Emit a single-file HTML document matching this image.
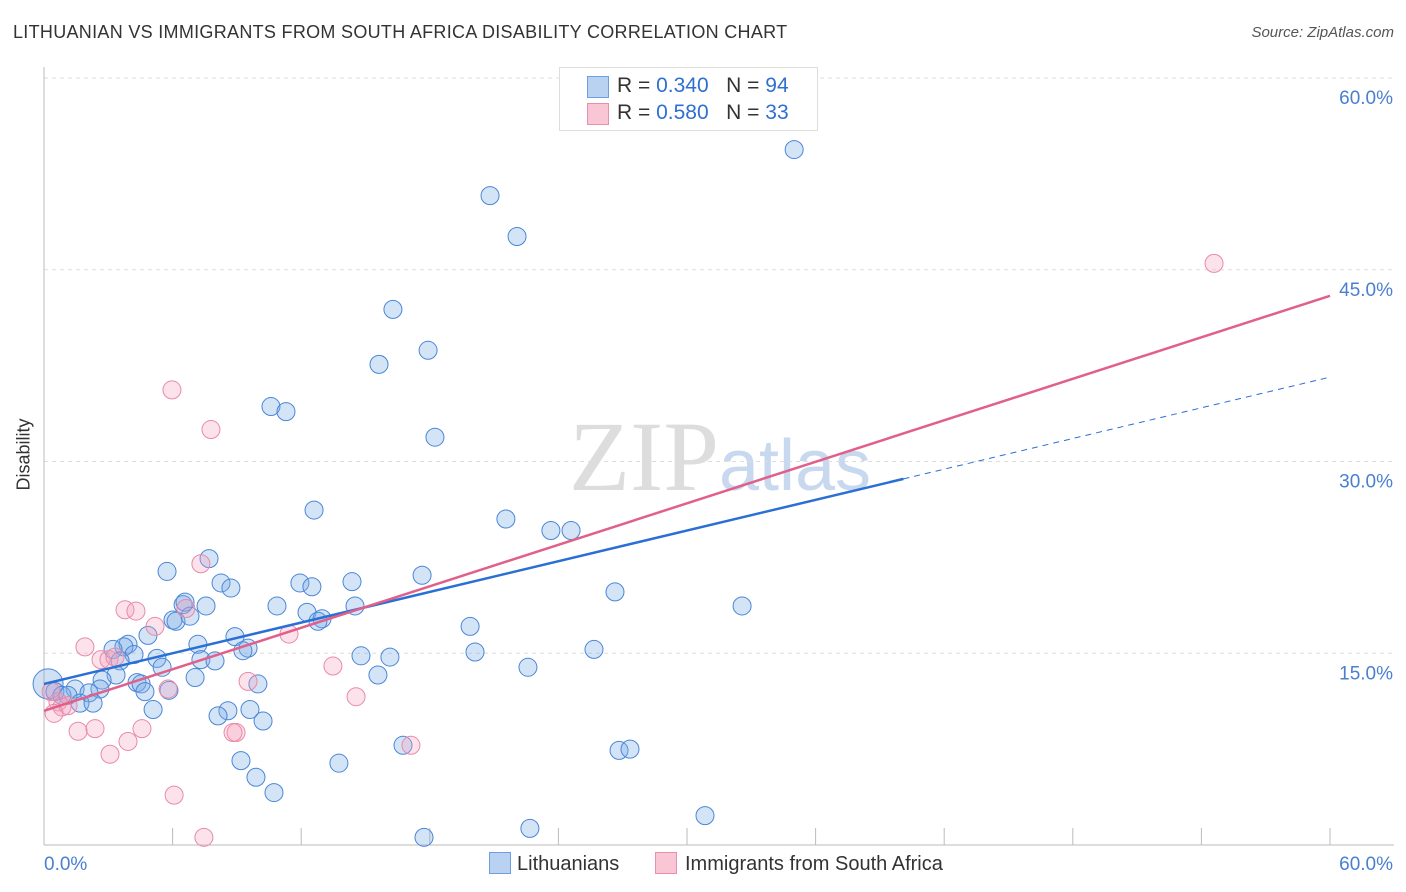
<!DOCTYPE html>
<html><head><meta charset="utf-8"><style>
body{margin:0;background:#fff;font-family:"Liberation Sans",sans-serif;}
#wrap{position:relative;width:1406px;height:892px;overflow:hidden;}
.t{position:absolute;white-space:nowrap;}
</style></head><body>
<div id="wrap">
<div class="t" style="left:13px;top:22px;font-size:18px;color:#333;letter-spacing:0.3px">LITHUANIAN VS IMMIGRANTS FROM SOUTH AFRICA DISABILITY CORRELATION CHART</div>
<div class="t" style="right:12px;top:24px;font-size:15px;color:#555;font-style:italic">Source: ZipAtlas.com</div>
<div class="t" style="left:-12px;top:444px;font-size:18px;color:#333;transform:rotate(-90deg)">Disability</div>
<svg id="svg" width="1406" height="892" style="position:absolute;left:0;top:0"></svg>
<div style="position:absolute;left:559px;top:67px;width:257px;height:62px;border:1px solid #ddd;background:#fff;font-size:21px;color:#333">
 <div style="position:absolute;left:27px;top:8px;width:20px;height:20px;background:#b9d2f2;border:1px solid #6f9ee0"></div>
 <div class="t" style="left:57px;top:6px">R = <span style="color:#2f6fd0">0.340</span>&nbsp;&nbsp;&nbsp;N = <span style="color:#2f6fd0">94</span></div>
 <div style="position:absolute;left:27px;top:35px;width:20px;height:20px;background:#f8c6d5;border:1px solid #e890ab"></div>
 <div class="t" style="left:57px;top:33px">R = <span style="color:#2f6fd0">0.580</span>&nbsp;&nbsp;&nbsp;N = <span style="color:#2f6fd0">33</span></div>
</div>
<div style="position:absolute;left:489px;top:852px;font-size:20px;color:#333">
 <span style="display:inline-block;width:20px;height:20px;background:#b9d2f2;border:1px solid #6f9ee0;vertical-align:-4px;margin-right:6px"></span>Lithuanians</div>
<div style="position:absolute;left:655px;top:852px;font-size:20px;color:#333">
 <span style="display:inline-block;width:20px;height:20px;background:#f8c6d5;border:1px solid #e890ab;vertical-align:-4px;margin-right:8px"></span>Immigrants from South Africa</div>
</div>
<script>
const blueX=[35.0,20.81,22.07,16.28,15.63,17.92,10.59,11.29,18.24,12.60,21.55,23.65,24.59,7.70,5.74,17.64,8.26,8.72,11.94,12.50,14.37,26.64,32.57,6.49,6.58,7.56,10.87,14.51,12.27,12.97,12.78,6.02,6.16,6.81,19.88,4.85,8.91,3.92,3.73,3.22,7.18,9.52,9.28,20.11,25.66,4.20,5.27,7.32,7.98,14.79,16.14,3.55,5.51,22.58,15.58,3.36,2.71,4.34,7.05,9.98,4.53,2.61,1.45,2.10,0.51,0.84,1.12,4.71,5.83,1.68,2.29,5.09,8.58,9.61,8.12,10.22,16.75,26.83,27.34,9.19,13.76,9.89,10.73,17.73,22.67,30.84];
const blueY=[54.4,50.8,47.6,41.9,37.6,38.7,34.3,33.9,31.9,26.2,25.5,24.6,24.6,22.4,21.4,21.1,20.5,20.1,20.5,20.2,20.6,19.8,18.7,18.8,19.0,18.7,18.7,18.7,18.2,17.7,17.5,17.6,17.5,17.9,17.1,16.4,16.3,15.7,15.5,15.3,15.7,15.4,15.2,15.1,15.3,14.9,14.6,14.5,14.4,14.8,14.7,14.4,13.9,13.9,13.3,13.3,12.9,12.7,13.1,12.6,12.6,12.2,12.2,11.9,12.0,11.7,11.7,12.0,12.1,11.1,11.1,10.6,10.5,10.6,10.1,9.7,7.8,7.4,7.5,6.6,6.4,5.3,4.1,0.6,1.3,2.3];
const pinkX=[54.59,5.97,7.79,7.32,6.62,3.78,4.29,5.18,1.91,11.43,2.66,3.03,3.31,13.48,9.52,5.79,14.56,0.33,0.65,0.84,1.12,0.47,1.59,2.38,4.57,3.92,8.96,8.82,17.12,3.08,6.07,7.46];
const pinkY=[45.5,35.6,32.5,22.0,18.5,18.4,18.3,17.1,15.5,16.5,14.5,14.5,14.7,14.0,12.8,12.2,11.6,12.0,11.2,10.8,10.9,10.3,8.9,9.1,9.1,8.1,8.8,8.8,7.8,7.1,3.9,0.6];
const blueTrend=[12.6,36.6], blueSolidEnd=40.1;
const pinkTrend=[10.5,42.96];
const yTicks=[15,30,45,60];
const yTickLabels=["15.0%","30.0%","45.0%","60.0%"];
const xTicks=[0,6,12,18,24,30,36,42,48,54,60];

const svg=document.getElementById('svg');
const NS='http://www.w3.org/2000/svg';
const X=v=>44+v/60*1286, Y=v=>845-v/60*767;
function mk(t,a){const e=document.createElementNS(NS,t);for(const k in a)e.setAttribute(k,a[k]);svg.appendChild(e);return e;}
const wm=mk('text',{x:720,y:490,'text-anchor':'middle','font-size':100,'font-family':'Liberation Serif,serif',fill:'#ddd'});


wm.innerHTML='ZIP<tspan fill="#c8d8ee" font-family="Liberation Sans,sans-serif" font-size="72">atlas</tspan>';
yTicks.forEach((v,i)=>{
 const g=mk('line',{x1:44,x2:1394,y1:Y(v),y2:Y(v),stroke:'#ddd','stroke-dasharray':'4,4'});
 
 
 const t=mk('text',{x:1393,y:Y(v)+26,'text-anchor':'end','font-size':19,fill:'#4a7fd0'});
 
 
 t.textContent=yTickLabels[i];
});
const ax=mk('line',{x1:44,x2:1394,y1:845,y2:845,stroke:'#bbb'});


const ay=mk('line',{x1:44,x2:44,y1:67,y2:845,stroke:'#bbb'});


xTicks.forEach(v=>{
 const l=mk('line',{x1:X(v),x2:X(v),y1:828,y2:845,stroke:'#bbb'});
 
 
});
[[0,'start',44,'0.0%'],[60,'end',1393,'60.0%']].forEach(a=>{
 const t=mk('text',{x:a[2],y:870,'text-anchor':a[1],'font-size':19,fill:'#4a7fd0'});
 
 
 t.textContent=a[3];
});
const big=mk('circle',{cx:X(0.19),cy:Y(12.6),r:15,fill:'rgba(120,165,225,0.35)',stroke:'#4a86d8','stroke-width':1});


blueX.forEach((v,i)=>{
 const c=mk('circle',{cx:X(v),cy:Y(blueY[i]),r:9,fill:'rgba(120,170,230,0.32)',stroke:'#4a86d8','stroke-width':1});
 
 
});
pinkX.forEach((v,i)=>{
 const c=mk('circle',{cx:X(v),cy:Y(pinkY[i]),r:9,fill:'rgba(245,160,190,0.3)',stroke:'#e88aa8','stroke-width':1});
 
 
});
const bAt=x=>blueTrend[0]+(blueTrend[1]-blueTrend[0])*x/60;
const bl=mk('line',{x1:X(0),y1:Y(bAt(0)),x2:X(blueSolidEnd),y2:Y(bAt(blueSolidEnd)),stroke:'#2a6fd6','stroke-width':2.5});


const bd=mk('line',{x1:X(blueSolidEnd),y1:Y(bAt(blueSolidEnd)),x2:X(60),y2:Y(bAt(60)),stroke:'#2a6fd6','stroke-width':1,'stroke-dasharray':'6,5'});


const pl=mk('line',{x1:X(0),y1:Y(pinkTrend[0]),x2:X(60),y2:Y(pinkTrend[1]),stroke:'#e0608a','stroke-width':2.5});


</script>
</body></html>
